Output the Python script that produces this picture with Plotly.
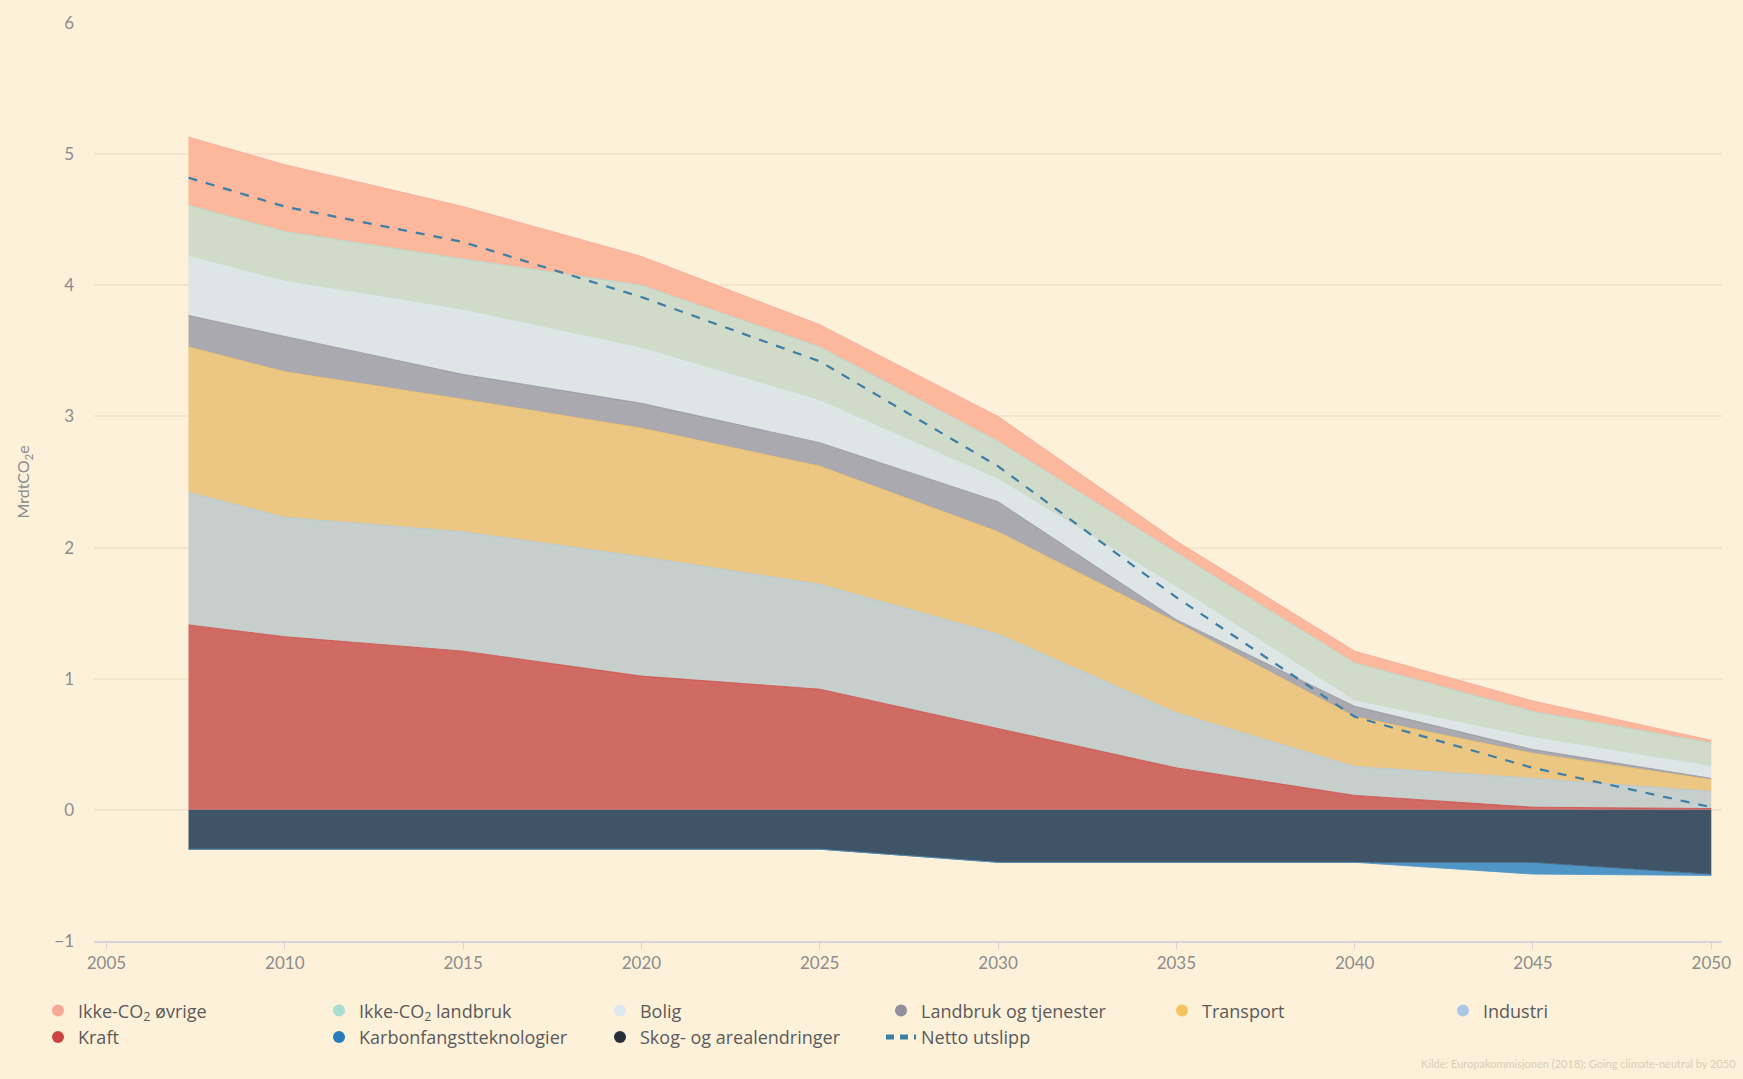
import plotly.graph_objects as go

years = [2007.3, 2010, 2015, 2020, 2025, 2030, 2035, 2040, 2045, 2050]

# Values per sector (MrdtCO2e)
kraft = [1.41, 1.32, 1.21, 1.02, 0.92, 0.62, 0.32, 0.11, 0.02, 0.01]
industri = [1.01, 0.91, 0.91, 0.91, 0.80, 0.72, 0.42, 0.22, 0.22, 0.13]
transport = [1.11, 1.11, 1.01, 0.98, 0.90, 0.78, 0.69, 0.38, 0.19, 0.09]
landbruk_tjenester = [0.24, 0.27, 0.19, 0.19, 0.18, 0.23, 0.02, 0.08, 0.03, 0.01]
bolig = [0.45, 0.42, 0.49, 0.42, 0.32, 0.17, 0.25, 0.04, 0.09, 0.09]
ikke_co2_landbruk = [0.39, 0.38, 0.39, 0.48, 0.41, 0.29, 0.26, 0.29, 0.20, 0.18]
ikke_co2_ovrige = [0.52, 0.51, 0.40, 0.22, 0.17, 0.19, 0.09, 0.09, 0.08, 0.02]
skog = [-0.30, -0.30, -0.30, -0.30, -0.30, -0.40, -0.40, -0.40, -0.40, -0.49]
karbonfangst = [0.0, 0.0, 0.0, 0.0, 0.0, 0.0, 0.0, 0.0, -0.09, -0.01]
netto = [4.82, 4.60, 4.33, 3.91, 3.42, 2.62, 1.62, 0.71, 0.32, 0.02]

x_ticks = [2005, 2010, 2015, 2020, 2025, 2030, 2035, 2040, 2045, 2050]
y_ticks = [-1, 0, 1, 2, 3, 4, 5, 6]

# name, values, fill colour, legend colour
positive = [
    ("Kraft", kraft, "#d06b64", "#cc4440"),
    ("Industri", industri, "#c6cfcb", "#a9c8e4"),
    ("Transport", transport, "#ebc783", "#f5c25e"),
    ("Landbruk og tjenester", landbruk_tjenester, "#aaa9b0", "#918f9b"),
    ("Bolig", bolig, "#dde6e5", "#dbe8f2"),
    ("Ikke-CO<sub>2</sub> landbruk", ikke_co2_landbruk, "#d1dbc9", "#aadcd3"),
    ("Ikke-CO<sub>2</sub> øvrige", ikke_co2_ovrige, "#fbb89d", "#f8a896"),
]
negative = [
    ("Skog- og arealendringer", skog, "#3f5466", "#26303b"),
    ("Karbonfangstteknologier", karbonfangst, "#4f95c6", "#2a7bb9"),
]

fig = go.Figure()

for name, vals, fill, lc in positive:
    fig.add_trace(go.Scatter(x=years, y=vals, name=name, stackgroup="pos",
                             mode="lines", line=dict(width=0.8, color=lc),
                             fillcolor=fill, showlegend=False))
for name, vals, fill, lc in negative:
    fig.add_trace(go.Scatter(x=years, y=vals, name=name, stackgroup="neg",
                             mode="lines", line=dict(width=0.8, color=fill),
                             fillcolor=fill, showlegend=False))

fig.add_trace(go.Scatter(x=years, y=netto, name="Netto utslipp", mode="lines",
                         line=dict(color="#3d7ea6", width=2.2, dash="dash"),
                         showlegend=False))

legend_order = [
    ("Ikke-CO<sub>2</sub> øvrige", "#f8a896"),
    ("Ikke-CO<sub>2</sub> landbruk", "#aadcd3"),
    ("Bolig", "#dbe8f2"),
    ("Landbruk og tjenester", "#918f9b"),
    ("Transport", "#f5c25e"),
    ("Industri", "#a9c8e4"),
    ("Kraft", "#cc4440"),
    ("Karbonfangstteknologier", "#2a7bb9"),
    ("Skog- og arealendringer", "#26303b"),
]
for name, col in legend_order:
    fig.add_trace(go.Scatter(x=[None], y=[None], name=name, mode="markers",
                             marker=dict(symbol="circle", size=15, color=col)))
fig.add_trace(go.Scatter(x=[None], y=[None], name="Netto utslipp", mode="lines",
                         line=dict(color="#3d7ea6", width=2.2, dash="8px,6px")))

bg = "#fef1da"
fig.update_layout(
    width=1743, height=1079,
    paper_bgcolor=bg, plot_bgcolor=bg,
    margin=dict(l=94, r=21, t=18, b=138),
    font=dict(family="Lato, sans-serif", color="#8c8c8c"),
    legend=dict(orientation="h", xref="paper", yref="paper",
                x=-0.0344, y=-0.056, xanchor="left", yanchor="top",
                entrywidth=236, entrywidthmode="pixels",
                font=dict(family="Open Sans, sans-serif", size=18, color="#5a5a5a"),
                itemsizing="constant", tracegroupgap=0, traceorder="normal"),
    xaxis=dict(range=[2004.65, 2050.3], tickvals=x_ticks, showgrid=False,
               zeroline=False, showline=True, linecolor="#d6d3dd", linewidth=1.5,
               ticks="outside", ticklen=6, tickcolor="#d6d3dd",
               tickfont=dict(size=17, color="#8c8c8c")),
    yaxis=dict(range=[-1, 6], tickvals=y_ticks, showgrid=True,
               gridcolor="#f4e4cc", gridwidth=1.5, zeroline=False,
               ticks="", ticklabelstandoff=19,
               tickfont=dict(size=17, color="#8c8c8c"),
               title=dict(text="MrdtCO<sub>2</sub>e", standoff=20,
                          font=dict(size=16, color="#8c8c8c"))),
    annotations=[dict(text="Kilde: Europakommisjonen (2018): Going climate-neutral by 2050",
                      xref="paper", yref="paper", x=1.01, y=-0.143,
                      xanchor="right", yanchor="bottom", showarrow=False,
                      font=dict(size=11, color="#d9cdb6"))],
)

fig.write_html("out.html", config={"displayModeBar": False},
               post_script="document.body.style.margin='0';")
